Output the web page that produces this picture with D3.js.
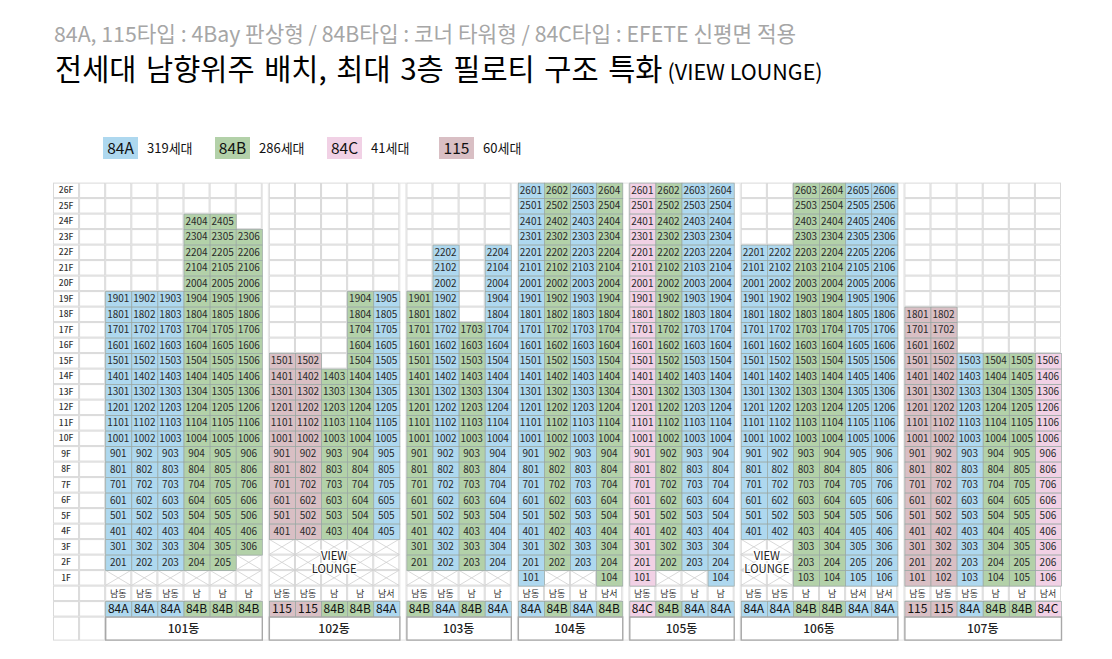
<!DOCTYPE html>
<html>
<head>
<meta charset="utf-8">
<script src="https://cdn.jsdelivr.net/npm/d3@7"></script>
<style>
html, body { margin: 0; padding: 0; background: #fff; }
svg { display: block; }
text { font-family: "Noto Sans CJK KR", "Noto Sans", sans-serif; }
.num { font-family: "Liberation Sans Narrow", "Noto Sans CJK KR", sans-serif; }
</style>
</head>
<body>
<svg></svg>
<script>
// chart data

var subTitle = '84A, 115타입 : 4Bay 판상형 / 84B타입 : 코너 타워형 / 84C타입 : EFETE 신평면 적용';
var mainTitle = '전세대 남향위주 배치, 최대 3층 필로티 구조 특화';
var mainTitleTail = '(VIEW LOUNGE)';

var legendTypes = ['84A', '84B', '84C', '115'];
var legendCounts = ['319세대', '286세대', '41세대', '60세대'];

var floors = d3.range(26, 0, -1);

var buildingNames = ['101동', '102동', '103동', '104동', '105동', '106동', '107동'];

var columnTypes = [
	['84A', '84A', '84A', '84B', '84B', '84B'],
	['115', '115', '84B', '84B', '84A'],
	['84B', '84A', '84B', '84A'],
	['84A', '84B', '84A', '84B'],
	['84C', '84B', '84A', '84A'],
	['84A', '84A', '84B', '84B', '84A', '84A'],
	['115', '115', '84A', '84B', '84B', '84C']
];

var columnFacing = [
	['남동', '남동', '남동', '남', '남', '남'],
	['남동', '남동', '남', '남', '남서'],
	['남동', '남동', '남', '남'],
	['남동', '남동', '남', '남서'],
	['남동', '남동', '남', '남'],
	['남동', '남동', '남', '남', '남서', '남서'],
	['남동', '남동', '남동', '남', '남', '남서']
];

// highest floor of each column
var topFloors = [
	[19, 19, 19, 24, 24, 23],
	[15, 15, 14, 19, 19],
	[19, 22, 17, 22],
	[26, 26, 26, 26],
	[26, 26, 26, 26],
	[22, 22, 26, 26, 26, 26],
	[18, 18, 15, 15, 15, 15]
];

// lowest floor with a unit, anything under it is piloti
var bottomFloors = [
	[2, 2, 2, 2, 2, 3],
	[4, 4, 4, 4, 4],
	[2, 2, 2, 2],
	[1, 2, 2, 1],
	[1, 2, 2, 1],
	[4, 4, 1, 1, 1, 1],
	[1, 1, 1, 1, 1, 1]
];

// view lounge: building index, first and last column it covers
var loungeBuildings = [1, 5];
var loungeFirst = [0, 0];
var loungeLast = [4, 1];
var loungeLines = ['VIEW', 'LOUNGE'];

var typeColors = d3.scaleOrdinal()
	.domain(legendTypes)
	.range(['#aed8ef', '#b3d1a9', '#f1d1e5', '#d9bfc4']);

var width = 1112,
	height = 659;

var svg = d3.select('svg')
	.attr('width', width)
	.attr('height', height);

// column layout: floor label, blank, then the buildings with a narrow gap between

var gapSize = 0.27;
var cursor = 2;
var buildingStart = columnTypes.map(function(cols, i) {
	var start = cursor;
	cursor += cols.length + gapSize;
	return start;
});
var totalColumns = cursor - gapSize;

var xScale = d3.scaleLinear()
	.domain([0, totalColumns])
	.range([53, 1061]);

var rowNames = floors.map(d => d + 'F').concat(['facing', 'type']);

var yScale = d3.scaleBand()
	.domain(rowNames)
	.range([182.6, 616.6]);

var rowH = yScale.bandwidth();
var colW = xScale(1) - xScale(0);
var footTop = yScale.range()[1];
var footH = 24;

var gridColor = '#d9d9d9';

// blank grid behind everything

var gridColumns = [0, 1];
columnTypes.forEach(function(cols, i) {
	d3.range(cols.length).forEach(c => gridColumns.push(buildingStart[i] + c));
});

var grid = svg.append('g');

gridColumns.forEach(function(c) {
	grid.selectAll(null)
		.data(rowNames)
		.enter()
		.append('rect')
			.attr('x', xScale(c) + 0.5)
			.attr('y', d => yScale(d) + 0.5)
			.attr('width', colW - 1)
			.attr('height', rowH - 1)
			.attr('fill', '#fff')
			.attr('stroke', gridColor);
});

// gap columns only get a faint edge
buildingStart.forEach(function(start, i) {
	if (i == 0) return;
	grid.append('rect')
		.attr('x', xScale(start - gapSize) + 0.5)
		.attr('y', yScale.range()[0] + 0.5)
		.attr('width', xScale(start) - xScale(start - gapSize) - 1)
		.attr('height', footTop + footH - yScale.range()[0] - 1)
		.attr('fill', '#fff')
		.attr('stroke', '#e4e4e4');
});

[0, 1].forEach(function(c) {
	grid.append('rect')
		.attr('x', xScale(c) + 0.5)
		.attr('y', footTop + 0.5)
		.attr('width', colW - 1)
		.attr('height', footH - 1)
		.attr('fill', '#fff')
		.attr('stroke', gridColor);
});

// floor labels
svg.selectAll('.floor')
	.data(floors)
	.enter()
	.append('text')
		.attr('class', 'floor')
		.attr('x', xScale(0.5))
		.attr('y', d => yScale(d + 'F') + rowH / 2)
		.attr('dy', '0.35em')
		.attr('text-anchor', 'middle')
		.attr('font-size', 8.5)
		.attr('font-weight', 500)
		.attr('fill', '#333')
		.text(d => d + 'F');

// one group per building

buildingNames.forEach(function(name, b) {
	var g = svg.append('g').attr('class', 'building');
	var x0 = buildingStart[b];
	var nCols = columnTypes[b].length;

	columnTypes[b].forEach(function(type, c) {
		var left = xScale(x0 + c);

		// crossed out piloti cells
		var empty = floors.filter(f => f < bottomFloors[b][c]);
		g.selectAll(null)
			.data(empty)
			.enter()
			.append('path')
				.attr('d', f => {
					var t = yScale(f + 'F');
					return 'M' + left + ',' + t + 'L' + (left + colW) + ',' + (t + rowH)
						+ 'M' + (left + colW) + ',' + t + 'L' + left + ',' + (t + rowH);
				})
				.attr('stroke', '#cfcfcf')
				.attr('stroke-width', 0.8)
				.attr('fill', 'none');

		var units = floors.filter(f => f <= topFloors[b][c] && f >= bottomFloors[b][c]);

		g.selectAll(null)
			.data(units)
			.enter()
			.append('rect')
				.attr('x', left + 0.5)
				.attr('y', f => yScale(f + 'F') + 0.5)
				.attr('width', colW)
				.attr('height', rowH)
				.attr('fill', typeColors(type))
				.attr('stroke', '#9aa8a4')
				.attr('stroke-width', 0.7);

		g.selectAll(null)
			.data(units)
			.enter()
			.append('text')
				.attr('class', 'num')
				.attr('x', left + colW / 2)
				.attr('y', f => yScale(f + 'F') + rowH / 2)
				.attr('dy', '0.36em')
				.attr('text-anchor', 'middle')
				.attr('font-size', 10)
				.attr('fill', '#2a2a2a')
				.text(f => f * 100 + c + 1);

		// direction row
		g.append('text')
			.attr('x', left + colW / 2)
			.attr('y', yScale('facing') + rowH / 2)
			.attr('dy', '0.35em')
			.attr('text-anchor', 'middle')
			.attr('font-size', 9)
			.attr('fill', '#333')
			.text(columnFacing[b][c]);

		// type row
		g.append('rect')
			.attr('x', left + 0.5)
			.attr('y', yScale('type') + 0.5)
			.attr('width', colW)
			.attr('height', rowH)
			.attr('fill', typeColors(type))
			.attr('stroke', '#9aa8a4')
			.attr('stroke-width', 0.7);

		g.append('text')
			.attr('x', left + colW / 2)
			.attr('y', yScale('type') + rowH / 2)
			.attr('dy', '0.36em')
			.attr('text-anchor', 'middle')
			.attr('font-size', 12)
			.attr('fill', '#111')
			.text(type);
	});

	// building name box
	g.append('rect')
		.attr('x', xScale(x0) + 0.5)
		.attr('y', footTop + 0.5)
		.attr('width', colW * nCols)
		.attr('height', footH - 1)
		.attr('fill', '#fff')
		.attr('stroke', '#a8a8a8')
		.attr('stroke-width', 1.4);

	g.append('text')
		.attr('x', xScale(x0 + nCols / 2))
		.attr('y', footTop + footH / 2)
		.attr('dy', '0.36em')
		.attr('text-anchor', 'middle')
		.attr('font-size', 12)
		.attr('font-weight', 500)
		.attr('fill', '#222')
		.text(name);
});

// view lounge labels sit on top of the crossed cells

loungeBuildings.forEach(function(b, i) {
	var cx = (xScale(buildingStart[b] + loungeFirst[i]) + xScale(buildingStart[b] + loungeLast[i] + 1)) / 2;
	var cy = yScale('2F') + rowH / 2;
	svg.selectAll(null)
		.data(loungeLines)
		.enter()
		.append('text')
			.attr('x', cx)
			.attr('y', (d, k) => cy + (k - 0.5) * 13 + 0.5)
			.attr('dy', '0.36em')
			.attr('text-anchor', 'middle')
			.attr('font-size', 11.3)
			.attr('fill', '#222')
			.attr('stroke', '#fff')
			.attr('stroke-width', 2.5)
			.attr('paint-order', 'stroke')
			.text(d => d);
});

// legend

var legendX = d3.scalePoint()
	.domain(legendTypes)
	.range([103, 439]);

var legend = svg.selectAll('.legend')
	.data(legendTypes)
	.enter()
	.append('g')
		.attr('class', 'legend')
		.attr('transform', d => 'translate(' + legendX(d) + ',137)');

legend.append('rect')
	.attr('width', 35)
	.attr('height', 22)
	.attr('fill', d => typeColors(d));

legend.append('text')
	.attr('x', 17.5)
	.attr('y', 11)
	.attr('dy', '0.36em')
	.attr('text-anchor', 'middle')
	.attr('font-size', 15.5)
	.attr('fill', '#111')
	.text(d => d);

legend.append('text')
	.attr('x', 44)
	.attr('y', 11)
	.attr('dy', '0.36em')
	.attr('font-size', 13)
	.attr('fill', '#111')
	.text((d, i) => legendCounts[i]);

// titles

svg.append('text')
	.attr('x', 54)
	.attr('y', 42)
	.attr('font-size', 21.3)
	.attr('fill', '#a6a6a6')
	.text(subTitle);

var title = svg.append('text')
	.attr('x', 55)
	.attr('y', 80)
	.attr('fill', '#000');

title.append('tspan')
	.attr('font-size', 29.5)
	.attr('word-spacing', 3)
	.text(mainTitle);

title.append('tspan')
	.attr('dx', 5)
	.attr('font-size', 21.5)
	.text(mainTitleTail);
</script>
</body>
</html>
